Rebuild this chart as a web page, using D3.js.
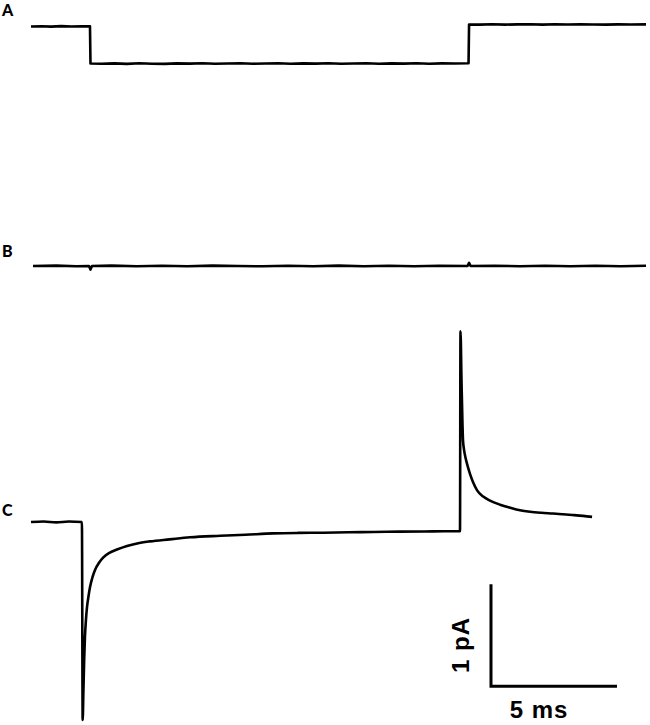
<!DOCTYPE html>
<html>
<head>
<meta charset="utf-8">
<script src="https://cdn.jsdelivr.net/npm/d3@7"></script>
<style>
  html, body { margin: 0; padding: 0; background: #fff; }
  svg { display: block; }
</style>
</head>
<body>
<svg id="chart" width="650" height="725"></svg>
<script>
// ---- data (time in ms) ----
const panelLabels = ["A", "B", "C"];

// Trace A: command step (mV, relative)
const traceA = [
  [0,0.0],[0.4,0.08],[0.8,-0.04],[1.2,0.1],[1.6,0.0],[2.0,0.08],[2.34,0.03],
  [2.36,-10.0],[2.8,-10.08],[3.3,-9.96],[3.8,-10.1],[4.3,-9.94],[4.8,-10.05],[5.3,-10.1],[5.8,-9.96],
  [6.3,-10.04],[6.8,-9.92],[7.3,-10.08],[7.8,-10.0],[8.3,-9.94],[8.8,-10.06],[9.3,-10.0],[9.8,-9.93],
  [10.3,-10.08],[10.8,-9.97],[11.3,-10.04],[11.8,-9.93],[12.3,-10.06],[12.8,-10.0],[13.3,-9.95],
  [13.8,-10.07],[14.3,-9.97],[14.8,-10.03],[15.3,-9.93],[15.8,-10.05],[16.3,-9.96],[16.8,-10.02],[17.36,-9.95],
  [17.38,0.55],[17.8,0.5],[18.3,0.6],[18.8,0.5],[19.3,0.58],[19.8,0.62],[20.3,0.52],[20.8,0.6],
  [21.3,0.53],[21.8,0.6],[22.3,0.55],[22.8,0.52],[23.3,0.58],[23.8,0.55],[24.4,0.57]
];

// Trace B: current (pA), flat with tiny artefacts at the steps
const traceB = [
  [0.08,0],[1.0,0.004],[1.8,-0.002],[2.30,0.0],[2.36,-0.035],[2.42,0.0],[3.2,0.004],[4.2,-0.003],
  [5.2,0.003],[6.2,-0.003],[7.2,0.004],[8.2,0.0],[9.2,-0.003],[10.2,0.003],[11.2,-0.002],[12.2,0.004],
  [13.2,-0.003],[14.2,0.002],[15.2,-0.003],[16.2,0.003],[17.32,0.0],[17.38,0.03],[17.44,0.0],
  [18.4,0.003],[19.4,-0.003],[20.4,0.003],[21.4,-0.003],[22.4,0.002],[23.4,-0.002],[24.4,0.002]
];

// Trace C: current (pA) with capacitive transients
const traceC = [
  [0,0],[0.5,0.005],[1.0,-0.004],[1.5,0.005],[2.02,0.0],
  [2.05,-1.94],[2.08,-1.65],[2.11,-1.35],[2.14,-1.13],[2.18,-0.96],[2.22,-0.84],[2.28,-0.73],
  [2.34,-0.64],[2.44,-0.54],[2.54,-0.47],[2.70,-0.40],[2.86,-0.35],[3.13,-0.30],[3.41,-0.27],
  [3.81,-0.235],[4.21,-0.21],[4.72,-0.19],[5.5,-0.17],[6.31,-0.15],[7.5,-0.135],[8.5,-0.125],
  [9.6,-0.112],[10.6,-0.107],[11.6,-0.105],[12.6,-0.1],[13.57,-0.098],[14.6,-0.094],[15.6,-0.093],
  [16.4,-0.09],[17.02,-0.09],
  [17.04,1.87],[17.08,1.39],[17.12,0.95],[17.14,0.80],[17.18,0.71],[17.24,0.63],[17.30,0.57],
  [17.42,0.47],[17.54,0.39],[17.70,0.31],[17.94,0.25],[18.21,0.21],[18.61,0.17],[19.01,0.14],
  [19.40,0.115],[19.80,0.10],[20.25,0.09],[20.71,0.083],[21.1,0.076],[21.47,0.069],[21.9,0.06],[22.26,0.05]
];

// Scale bar: 5 ms x 1 pA
const scaleBarMs = 5;
const scaleBarPA = 1;
const scaleBarStart = [18.25, -1.61]; // [ms, pA] on trace C scale
const scaleBarLabels = ["5 ms", "1 pA"];

// ---- drawing ----
const svg = d3.select("#chart");
const x = d3.scaleLinear().domain([0, 24.4]).range([31, 646]);
const yA = d3.scaleLinear().domain([0, -10]).range([26.5, 63.5]);
const yB = d3.scaleLinear().domain([0, 1]).range([266, 164]);
const yC = d3.scaleLinear().domain([0, 1]).range([522, 420]);

function drawTrace(data, y, curve) {
  const line = d3.line().x(d => x(d[0])).y(d => y(d[1])).curve(curve);
  svg.append("path")
    .datum(data)
    .attr("d", line)
    .attr("fill", "none")
    .attr("stroke", "#000")
    .attr("stroke-width", 2.6)
    .attr("stroke-linejoin", "round");
}
drawTrace(traceA, yA, d3.curveLinear);
drawTrace(traceB, yB, d3.curveLinear);
drawTrace(traceC, yC, d3.curveMonotoneX);

// panel labels
const labelY = [16, 257, 516];
svg.selectAll("text.panel")
  .data(panelLabels)
  .enter().append("text")
  .attr("class", "panel")
  .attr("x", 2)
  .attr("y", (d, i) => labelY[i])
  .attr("font-family", "Lato, 'DejaVu Sans', sans-serif")
  .attr("font-weight", "900")
  .attr("font-size", 16)
  .text(d => d);

// scale bar
const sx0 = x(scaleBarStart[0]);
const sx1 = x(scaleBarStart[0] + scaleBarMs);
const sy0 = yC(scaleBarStart[1]);
const sy1 = yC(scaleBarStart[1] + scaleBarPA);
svg.append("path")
  .attr("d", `M${sx0},${sy1}V${sy0}H${sx1}`)
  .attr("fill", "none")
  .attr("stroke", "#000")
  .attr("stroke-width", 3);

svg.append("text")
  .attr("x", 539)
  .attr("y", 718)
  .attr("text-anchor", "middle")
  .attr("font-family", "'Liberation Sans', Arial, sans-serif")
  .attr("font-weight", "bold")
  .attr("font-size", 24)
  .attr("letter-spacing", 1)
  .text(scaleBarLabels[0]);

svg.append("text")
  .attr("transform", `translate(${sx0 - 22},645) rotate(-90)`)
  .attr("text-anchor", "middle")
  .attr("font-family", "'Liberation Sans', Arial, sans-serif")
  .attr("font-weight", "bold")
  .attr("font-size", 24)
  .attr("letter-spacing", 1)
  .text(scaleBarLabels[1]);
</script>
</body>
</html>
